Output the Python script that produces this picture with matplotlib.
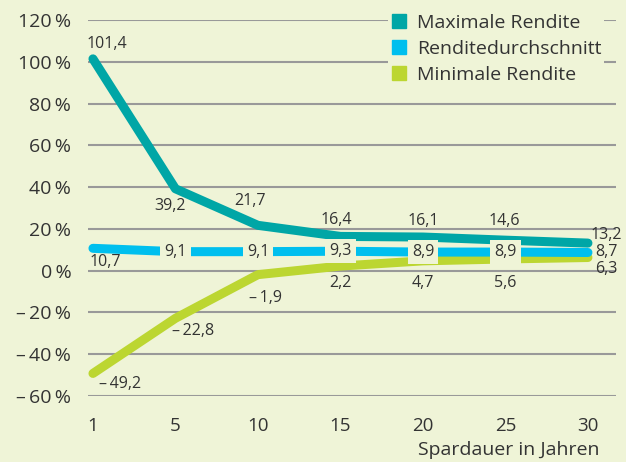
import matplotlib
matplotlib.use("Agg")
from matplotlib import pyplot as plt
from matplotlib.lines import Line2D

years = ["1", "5", "10", "15", "20", "25", "30"]
max_rendite = [101.4, 39.2, 21.7, 16.4, 16.1, 14.6, 13.2]
avg_rendite = [10.7, 9.1, 9.1, 9.3, 8.9, 8.9, 8.7]
min_rendite = [-49.2, -22.8, -1.9, 2.2, 4.7, 5.6, 6.3]
y_ticks = [-60, -40, -20, 0, 20, 40, 60, 80, 100, 120]

bg = "#eff4d7"
c_max = "#00a6a6"
c_avg = "#00bfee"
c_min = "#bcd631"
txt = "#333333"

plt.rcParams["font.family"] = ["Open Sans", "DejaVu Sans"]


def fmt(v):
    s = f"{abs(v):.1f}".replace(".", ",")
    return ("\u2013\u2009" + s) if v < 0 else s


def pct(v):
    return ("\u2013\u2009" if v < 0 else "") + f"{abs(v)}\u2009%"


# label offsets in pixels (dx, dy) relative to each point
off_max = [(14, 15), (-5, -17), (-8, 24), (-4, 16), (0, 16), (-1, 19), (18, 8)]
off_avg = [(12, -14), (0, 0), (0, 0), (0, 0), (0, 0), (0, 0), (18, 0)]
off_min = [(27, -11), (18, -13), (8, -23), (0, -17), (0, -22), (0, -24), (18, -11)]

fig = plt.figure(figsize=(6.26, 4.62), dpi=100, facecolor=bg)
ax = fig.add_axes([88 / 626, 1 - 396 / 462, 528 / 626, 376 / 462])
ax.set_facecolor(bg)
x = list(range(len(years)))

ax.plot(x, max_rendite, color=c_max, lw=6.5, solid_capstyle="round",
        solid_joinstyle="round", zorder=3)
ax.plot(x, min_rendite, color=c_min, lw=6.5, solid_capstyle="round",
        solid_joinstyle="round", zorder=3)
ax.plot(x, avg_rendite, color=c_avg, lw=6.5, solid_capstyle="round",
        solid_joinstyle="round", zorder=4)

for vals, offs in ((max_rendite, off_max), (min_rendite, off_min)):
    for i, (v, o) in enumerate(zip(vals, offs)):
        ax.annotate(fmt(v), (i, v), xytext=o, textcoords="offset pixels",
                    ha="center", va="center", fontsize=11.5, color=txt,
                    zorder=6)
for i, (v, o) in enumerate(zip(avg_rendite, off_avg)):
    box = None
    if 0 < i < len(avg_rendite) - 1:
        box = dict(boxstyle="square,pad=0.25", fc=bg, ec="none")
    ax.annotate(fmt(v), (i, v), xytext=o, textcoords="offset pixels",
                ha="center", va="center", fontsize=11.5, color=txt, zorder=6,
                bbox=box)

ax.set_ylim(-60, 120)
ax.set_xlim(-0.06, 6.34)
ax.set_yticks(y_ticks)
ax.set_yticklabels([pct(v) for v in y_ticks], fontsize=14, color=txt)
ax.set_xticks(x)
ax.set_xticklabels(years, fontsize=13.5, color=txt)
ax.tick_params(axis="y", length=0, pad=12)
ax.tick_params(axis="x", length=0, pad=15)
ax.yaxis.grid(True, color="#999999", lw=1.5)
ax.set_axisbelow(True)
for s in ax.spines.values():
    s.set_visible(False)

fig.text(600 / 626, 1 - 450 / 462, "Spardauer in Jahren", ha="right",
         va="center", fontsize=14, color=txt)

handles = [Line2D([], [], ls="none", marker="s", ms=9.5, color=c)
           for c in (c_max, c_avg, c_min)]
leg = ax.legend(handles, ["Maximale Rendite", "Renditedurchschnitt",
                          "Minimale Rendite"],
                loc="upper left", bbox_to_anchor=(290 / 528, 1.05),
                frameon=True, facecolor=bg, edgecolor="none", framealpha=1,
                fontsize=14, handletextpad=0.45, labelspacing=0.42,
                borderpad=0.15, handlelength=0.9)
for t in leg.get_texts():
    t.set_color(txt)

fig.savefig("out.png", dpi=100, facecolor=bg)
